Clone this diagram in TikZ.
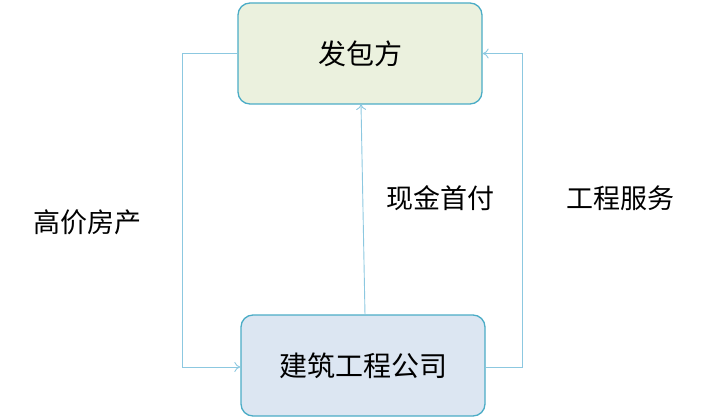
\documentclass[tikz,border=0pt]{standalone}
\usepackage{fontspec}
\newfontfamily\cjk{Noto Sans CJK SC}
\usetikzlibrary{arrows.meta}
\definecolor{bord}{HTML}{4BACC6}
\definecolor{lin}{HTML}{8CC8E0}
\definecolor{gfill}{HTML}{EBF1DE}
\definecolor{bfill}{HTML}{DCE6F2}
\begin{document}
\begin{tikzpicture}[x=1pt,y=-1pt,
  box/.style={draw=bord,line width=1.3pt,rounded corners=12pt,minimum width=244pt,minimum height=101pt,inner sep=0pt,font=\cjk\fontsize{28}{32}\selectfont},
  lab/.style={font=\cjk\fontsize{27}{32}\selectfont,inner sep=0pt},
  con/.style={draw=lin,line width=0.9pt,-{To[length=6pt,width=10pt]}}]
\useasboundingbox (0,0) rectangle (716,420);
\node[box,fill=gfill] (top) at (360,53.5) {发包方};
\node[box,fill=bfill] (bot) at (363,365.5) {建筑工程公司};
\coordinate (l1) at (182,53.5);
\coordinate (l2) at (182,367);
\coordinate (r1) at (522,367);
\coordinate (r2) at (522,53.5);
\draw[con] (top.west) -- (l1) -- (l2) -- (bot.west |- l2);
\draw[con] (bot.east |- r1) -- (r1) -- (r2) -- (top.east);
\draw[con] (365,315) -- (361,104);
\node[lab] (t1) at (88,222) {高价房产};
\node[lab] (t2) at (440,198) {现金首付};
\node[lab] (t3) at (620,198) {工程服务};
\end{tikzpicture}
\end{document}
